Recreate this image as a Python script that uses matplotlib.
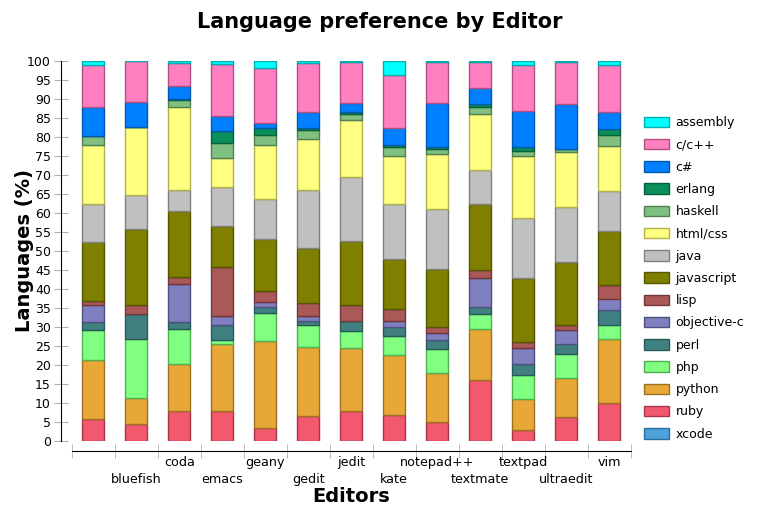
import numpy as np
import matplotlib
matplotlib.use("Agg")
import matplotlib.pyplot as plt

editors = ['', 'bluefish', 'coda', 'emacs', 'geany', 'gedit', 'jedit', 'kate',
           'notepad++', 'textmate', 'textpad', 'ultraedit', 'vim']

# percentages per language (stacked from bottom: xcode, ruby, ... assembly)
xcode = [0, 0, 0, 0, 0, 0, 0, 0, 0, 0, 0, 0, 0]
ruby = [5.8, 4.5, 7.9, 7.9, 3.3, 6.6, 7.9, 6.8, 5.0, 16.0, 2.9, 6.3, 10.0]
python = [15.4, 6.8, 12.3, 17.5, 23.0, 18.1, 16.5, 15.8, 12.9, 13.5, 8.1, 10.3, 16.8]
php = [7.9, 15.5, 9.3, 1.1, 7.5, 5.7, 4.5, 5.0, 6.3, 3.8, 6.4, 6.3, 3.6]
perl = [2.1, 6.5, 1.8, 3.9, 1.5, 1.3, 2.8, 2.4, 2.4, 2.0, 2.9, 2.5, 4.0]
objective_c = [4.5, 0, 10.0, 2.4, 1.4, 1.1, 0, 1.7, 1.8, 7.5, 4.2, 3.8, 3.1]
lisp = [1.1, 2.5, 1.9, 13.1, 2.7, 3.5, 4.2, 3.0, 1.6, 2.1, 1.5, 1.3, 3.5]
javascript = [15.7, 20.0, 17.2, 10.6, 13.7, 14.6, 16.7, 13.1, 15.2, 17.6, 16.8, 16.5, 14.2]
java = [9.9, 8.9, 5.6, 10.4, 10.6, 15.1, 16.9, 14.6, 15.8, 8.8, 15.9, 14.6, 10.6]
html_css = [15.4, 17.9, 21.9, 7.6, 14.2, 13.5, 15.0, 12.6, 14.5, 14.7, 16.3, 14.5, 11.8]
haskell = [2.4, 0, 1.8, 3.8, 2.6, 2.4, 1.5, 2.4, 1.3, 1.9, 1.3, 0.7, 2.9]
erlang = [0, 0, 0.4, 3.3, 1.8, 0.6, 0.5, 0.5, 0.5, 0.7, 1.1, 0, 1.6]
c_sharp = [7.8, 6.5, 3.2, 3.8, 1.5, 4.2, 2.4, 4.6, 11.6, 4.2, 9.4, 11.8, 4.5]
c_cpp = [11.0, 10.9, 6.3, 13.7, 14.3, 12.8, 10.8, 13.8, 10.8, 6.9, 12.1, 11.1, 12.3]
assembly = [1.0, 0, 0.4, 0.9, 1.9, 0.5, 0.3, 3.7, 0.3, 0.3, 1.1, 0.3, 1.1]

series = [
    ('xcode', xcode, '#50a0dc', '#2c6e9e'),
    ('ruby', ruby, '#f3596e', '#a8354a'),
    ('python', python, '#e8a838', '#9c7020'),
    ('php', php, '#80ff80', '#50b050'),
    ('perl', perl, '#408080', '#285858'),
    ('objective-c', objective_c, '#8080c0', '#505080'),
    ('lisp', lisp, '#aa5858', '#703838'),
    ('javascript', javascript, '#808000', '#555500'),
    ('java', java, '#c0c0c0', '#808080'),
    ('html/css', html_css, '#ffff80', '#b0b050'),
    ('haskell', haskell, '#80c080', '#508050'),
    ('erlang', erlang, '#0a8f5a', '#06603c'),
    ('c#', c_sharp, '#0080ff', '#0058b0'),
    ('c/c++', c_cpp, '#ff80c0', '#b05080'),
    ('assembly', assembly, '#00ffff', '#00b0b0'),
]

fig = plt.figure(figsize=(7.59, 5.14), dpi=100)
ax = fig.add_axes([71.7 / 759, 73 / 514, 559 / 759, 380 / 514])

x = np.arange(len(editors))
bottom = np.zeros(len(editors))
handles = []
for name, vals, face, edge in series:
    vals = np.array(vals)
    b = ax.bar(x, vals, width=0.51, bottom=bottom, color=face, edgecolor=edge,
               linewidth=1.0, label=name)
    handles.append(b)
    bottom += vals

ax.set_xlim(-0.5, len(editors) - 0.5)
ax.set_ylim(0, 100)
ax.set_yticks(np.arange(0, 101, 5))
ax.tick_params(axis='y', direction='inout', length=10, color='#b0b0b0',
               labelsize=9, pad=2)

ax.set_xticks(x)
ax.set_xticklabels([])
ax.tick_params(axis='x', which='major', length=0)
# staggered labels: odd categories go on a second row
for i, e in enumerate(editors):
    ax.text(i, -0.057 if i % 2 == 0 else -0.101, e, transform=ax.get_xaxis_transform(),
            ha='center', va='center', fontsize=9.2, clip_on=False)
ax.set_xticks(np.arange(-0.5, len(editors), 1), minor=True)
ax.tick_params(axis='x', which='minor', direction='inout', length=10,
               color='#b0b0b0')

for s in ['top', 'right']:
    ax.spines[s].set_visible(False)
ax.spines['left'].set_position(('outward', 8))
ax.spines['bottom'].set_position(('outward', 7))

fig.text(0.5, 1 - 22 / 514, 'Language preference by Editor', ha='center',
         va='center', fontsize=15, fontweight='bold')
fig.text(25 / 759, 1 - 251 / 514, 'Languages (%)', ha='center', va='center',
         rotation=90, fontsize=14, fontweight='bold')
fig.text(351 / 759, 1 - 497 / 514, 'Editors', ha='center', va='center',
         fontsize=14, fontweight='bold')

leg = fig.legend(handles[::-1], [s[0] for s in series][::-1],
                 loc='upper left', bbox_to_anchor=(633 / 759, 1 - 105 / 514),
                 frameon=False, fontsize=9, handlelength=2.0,
                 handleheight=0.9, labelspacing=0.74, handletextpad=0.5)

fig.savefig('out.png', dpi=100)
